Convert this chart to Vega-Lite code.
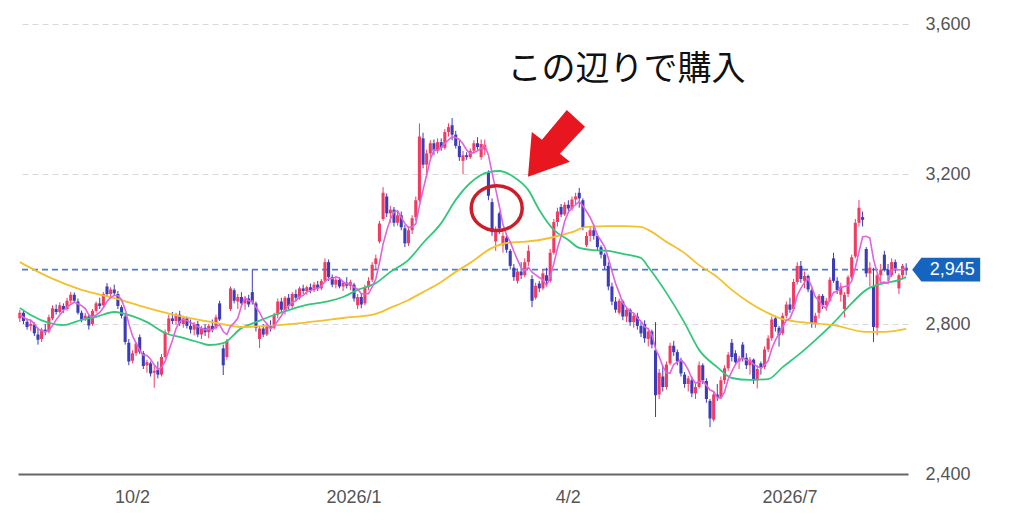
{
  "$schema": "https://vega.github.io/schema/vega-lite/v6.json",
  "width": 890,
  "height": 474,
  "autosize": {"type": "none"},
  "padding": {"left": 18, "top": 0, "right": 116, "bottom": 55},
  "background": "#ffffff",
  "config": {"view": {"stroke": null}, "font": "Liberation Sans"},
  "datasets": {
    "candles": [
      {"d":"2025-08-18","o":2815,"h":2838,"l":2805,"c":2830,"m5":2824},
      {"d":"2025-08-19","o":2830,"h":2836,"l":2800,"c":2808,"m5":2818},
      {"d":"2025-08-20","o":2806,"h":2815,"l":2785,"c":2792,"m5":2812},
      {"d":"2025-08-21","o":2795,"h":2812,"l":2782,"c":2800,"m5":2810},
      {"d":"2025-08-22","o":2798,"h":2804,"l":2768,"c":2775,"m5":2801},
      {"d":"2025-08-25","o":2772,"h":2790,"l":2745,"c":2758,"m5":2787},
      {"d":"2025-08-26","o":2760,"h":2790,"l":2752,"c":2785,"m5":2782},
      {"d":"2025-08-27","o":2785,"h":2800,"l":2770,"c":2778,"m5":2779},
      {"d":"2025-08-28","o":2780,"h":2825,"l":2775,"c":2818,"m5":2783},
      {"d":"2025-08-29","o":2815,"h":2850,"l":2810,"c":2842,"m5":2796},
      {"d":"2025-09-01","o":2840,"h":2852,"l":2825,"c":2832,"m5":2811},
      {"d":"2025-09-02","o":2832,"h":2858,"l":2828,"c":2850,"m5":2824},
      {"d":"2025-09-03","o":2848,"h":2855,"l":2830,"c":2838,"m5":2836},
      {"d":"2025-09-04","o":2840,"h":2870,"l":2835,"c":2862,"m5":2845},
      {"d":"2025-09-05","o":2862,"h":2885,"l":2855,"c":2878,"m5":2852},
      {"d":"2025-09-08","o":2878,"h":2884,"l":2858,"c":2862,"m5":2858},
      {"d":"2025-09-09","o":2860,"h":2868,"l":2825,"c":2830,"m5":2854},
      {"d":"2025-09-10","o":2830,"h":2836,"l":2805,"c":2812,"m5":2849},
      {"d":"2025-09-11","o":2815,"h":2830,"l":2808,"c":2822,"m5":2841},
      {"d":"2025-09-12","o":2820,"h":2825,"l":2785,"c":2796,"m5":2824},
      {"d":"2025-09-16","o":2800,"h":2840,"l":2795,"c":2835,"m5":2819},
      {"d":"2025-09-17","o":2835,"h":2860,"l":2830,"c":2855,"m5":2824},
      {"d":"2025-09-18","o":2855,"h":2870,"l":2840,"c":2848,"m5":2831},
      {"d":"2025-09-19","o":2850,"h":2885,"l":2845,"c":2880,"m5":2843},
      {"d":"2025-09-22","o":2900,"h":2909,"l":2872,"c":2880,"m5":2860},
      {"d":"2025-09-24","o":2880,"h":2898,"l":2868,"c":2892,"m5":2871},
      {"d":"2025-09-25","o":2892,"h":2905,"l":2875,"c":2882,"m5":2876},
      {"d":"2025-09-26","o":2880,"h":2888,"l":2840,"c":2848,"m5":2876},
      {"d":"2025-09-29","o":2845,"h":2850,"l":2815,"c":2822,"m5":2865},
      {"d":"2025-09-30","o":2820,"h":2825,"l":2745,"c":2752,"m5":2839},
      {"d":"2025-10-01","o":2750,"h":2760,"l":2690,"c":2700,"m5":2801},
      {"d":"2025-10-02","o":2702,"h":2730,"l":2695,"c":2722,"m5":2769},
      {"d":"2025-10-03","o":2722,"h":2752,"l":2715,"c":2748,"m5":2749},
      {"d":"2025-10-06","o":2765,"h":2772,"l":2720,"c":2726,"m5":2730},
      {"d":"2025-10-07","o":2722,"h":2728,"l":2680,"c":2688,"m5":2717},
      {"d":"2025-10-08","o":2690,"h":2705,"l":2670,"c":2698,"m5":2716},
      {"d":"2025-10-09","o":2695,"h":2700,"l":2660,"c":2668,"m5":2706},
      {"d":"2025-10-10","o":2670,"h":2690,"l":2630,"c":2675,"m5":2691},
      {"d":"2025-10-14","o":2678,"h":2700,"l":2655,"c":2665,"m5":2679},
      {"d":"2025-10-15","o":2665,"h":2720,"l":2660,"c":2712,"m5":2684},
      {"d":"2025-10-16","o":2712,"h":2785,"l":2708,"c":2778,"m5":2700},
      {"d":"2025-10-17","o":2780,"h":2825,"l":2772,"c":2815,"m5":2729},
      {"d":"2025-10-20","o":2815,"h":2832,"l":2800,"c":2808,"m5":2756},
      {"d":"2025-10-21","o":2808,"h":2830,"l":2798,"c":2825,"m5":2788},
      {"d":"2025-10-22","o":2825,"h":2835,"l":2795,"c":2802,"m5":2806},
      {"d":"2025-10-23","o":2800,"h":2822,"l":2790,"c":2815,"m5":2813},
      {"d":"2025-10-24","o":2815,"h":2820,"l":2788,"c":2795,"m5":2809},
      {"d":"2025-10-27","o":2795,"h":2812,"l":2775,"c":2785,"m5":2804},
      {"d":"2025-10-28","o":2785,"h":2805,"l":2770,"c":2800,"m5":2799},
      {"d":"2025-10-29","o":2800,"h":2808,"l":2765,"c":2772,"m5":2793},
      {"d":"2025-10-30","o":2772,"h":2795,"l":2760,"c":2790,"m5":2788},
      {"d":"2025-10-31","o":2790,"h":2800,"l":2768,"c":2778,"m5":2785},
      {"d":"2025-11-04","o":2778,"h":2800,"l":2762,"c":2795,"m5":2787},
      {"d":"2025-11-05","o":2795,"h":2812,"l":2778,"c":2785,"m5":2784},
      {"d":"2025-11-06","o":2790,"h":2825,"l":2785,"c":2818,"m5":2793},
      {"d":"2025-11-07","o":2855,"h":2862,"l":2808,"c":2812,"m5":2798},
      {"d":"2025-11-10","o":2735,"h":2745,"l":2664,"c":2690,"m5":2780},
      {"d":"2025-11-11","o":2712,"h":2760,"l":2705,"c":2755,"m5":2772},
      {"d":"2025-11-12","o":2840,"h":2900,"l":2835,"c":2895,"m5":2794},
      {"d":"2025-11-13","o":2890,"h":2895,"l":2855,"c":2862,"m5":2803},
      {"d":"2025-11-14","o":2860,"h":2880,"l":2840,"c":2872,"m5":2815},
      {"d":"2025-11-17","o":2872,"h":2885,"l":2848,"c":2855,"m5":2848},
      {"d":"2025-11-18","o":2855,"h":2875,"l":2838,"c":2868,"m5":2870},
      {"d":"2025-11-19","o":2868,"h":2878,"l":2845,"c":2852,"m5":2862},
      {"d":"2025-11-20","o":2885,"h":2944,"l":2852,"c":2858,"m5":2861},
      {"d":"2025-11-21","o":2855,"h":2860,"l":2780,"c":2790,"m5":2845},
      {"d":"2025-11-25","o":2760,"h":2795,"l":2736,"c":2788,"m5":2831},
      {"d":"2025-11-26","o":2788,"h":2800,"l":2765,"c":2772,"m5":2812},
      {"d":"2025-11-27","o":2772,"h":2800,"l":2768,"c":2795,"m5":2801},
      {"d":"2025-11-28","o":2795,"h":2810,"l":2780,"c":2790,"m5":2787},
      {"d":"2025-12-01","o":2790,"h":2830,"l":2785,"c":2825,"m5":2794},
      {"d":"2025-12-02","o":2825,"h":2868,"l":2815,"c":2860,"m5":2808},
      {"d":"2025-12-03","o":2860,"h":2870,"l":2830,"c":2838,"m5":2822},
      {"d":"2025-12-04","o":2835,"h":2875,"l":2825,"c":2870,"m5":2837},
      {"d":"2025-12-05","o":2870,"h":2880,"l":2840,"c":2848,"m5":2848},
      {"d":"2025-12-08","o":2848,"h":2885,"l":2842,"c":2880,"m5":2859},
      {"d":"2025-12-09","o":2880,"h":2892,"l":2862,"c":2870,"m5":2861},
      {"d":"2025-12-10","o":2870,"h":2900,"l":2865,"c":2895,"m5":2873},
      {"d":"2025-12-11","o":2895,"h":2905,"l":2880,"c":2888,"m5":2876},
      {"d":"2025-12-12","o":2888,"h":2902,"l":2878,"c":2898,"m5":2886},
      {"d":"2025-12-15","o":2898,"h":2908,"l":2882,"c":2890,"m5":2888},
      {"d":"2025-12-16","o":2890,"h":2912,"l":2885,"c":2905,"m5":2895},
      {"d":"2025-12-17","o":2905,"h":2915,"l":2888,"c":2895,"m5":2895},
      {"d":"2025-12-18","o":2895,"h":2920,"l":2890,"c":2915,"m5":2901},
      {"d":"2025-12-19","o":2915,"h":2975,"l":2910,"c":2965,"m5":2914},
      {"d":"2025-12-22","o":2965,"h":2972,"l":2915,"c":2925,"m5":2921},
      {"d":"2025-12-23","o":2925,"h":2932,"l":2898,"c":2905,"m5":2921},
      {"d":"2025-12-24","o":2905,"h":2925,"l":2895,"c":2918,"m5":2926},
      {"d":"2025-12-25","o":2918,"h":2925,"l":2895,"c":2900,"m5":2923},
      {"d":"2025-12-26","o":2900,"h":2915,"l":2888,"c":2910,"m5":2912},
      {"d":"2025-12-29","o":2910,"h":2925,"l":2895,"c":2902,"m5":2907},
      {"d":"2025-12-30","o":2902,"h":2918,"l":2890,"c":2912,"m5":2908},
      {"d":"2026-01-05","o":2905,"h":2910,"l":2860,"c":2868,"m5":2898},
      {"d":"2026-01-06","o":2850,"h":2880,"l":2840,"c":2872,"m5":2893},
      {"d":"2026-01-07","o":2872,"h":2882,"l":2842,"c":2852,"m5":2881},
      {"d":"2026-01-08","o":2855,"h":2905,"l":2850,"c":2898,"m5":2880},
      {"d":"2026-01-09","o":2898,"h":2925,"l":2890,"c":2915,"m5":2881},
      {"d":"2026-01-13","o":2918,"h":2965,"l":2912,"c":2958,"m5":2899},
      {"d":"2026-01-14","o":2960,"h":2985,"l":2945,"c":2975,"m5":2920},
      {"d":"2026-01-15","o":3020,"h":3075,"l":3015,"c":3068,"m5":2963},
      {"d":"2026-01-16","o":3080,"h":3165,"l":3075,"c":3150,"m5":3013},
      {"d":"2026-01-19","o":3140,"h":3148,"l":3085,"c":3095,"m5":3049},
      {"d":"2026-01-20","o":3095,"h":3115,"l":3070,"c":3105,"m5":3079},
      {"d":"2026-01-21","o":3105,"h":3112,"l":3060,"c":3070,"m5":3098},
      {"d":"2026-01-22","o":3070,"h":3100,"l":3062,"c":3090,"m5":3102},
      {"d":"2026-01-23","o":3090,"h":3100,"l":3050,"c":3058,"m5":3084},
      {"d":"2026-01-26","o":3055,"h":3065,"l":3005,"c":3015,"m5":3068},
      {"d":"2026-01-27","o":3015,"h":3060,"l":3008,"c":3050,"m5":3057},
      {"d":"2026-01-28","o":3050,"h":3090,"l":3040,"c":3082,"m5":3059},
      {"d":"2026-01-29","o":3085,"h":3140,"l":3075,"c":3130,"m5":3067},
      {"d":"2026-01-30","o":3130,"h":3335,"l":3125,"c":3300,"m5":3115},
      {"d":"2026-02-02","o":3295,"h":3310,"l":3215,"c":3225,"m5":3157},
      {"d":"2026-02-03","o":3225,"h":3265,"l":3190,"c":3255,"m5":3198},
      {"d":"2026-02-04","o":3255,"h":3290,"l":3245,"c":3282,"m5":3238},
      {"d":"2026-02-05","o":3282,"h":3292,"l":3250,"c":3262,"m5":3265},
      {"d":"2026-02-06","o":3262,"h":3295,"l":3255,"c":3285,"m5":3262},
      {"d":"2026-02-09","o":3285,"h":3295,"l":3262,"c":3270,"m5":3271},
      {"d":"2026-02-10","o":3270,"h":3320,"l":3265,"c":3312,"m5":3282},
      {"d":"2026-02-12","o":3312,"h":3335,"l":3300,"c":3325,"m5":3291},
      {"d":"2026-02-13","o":3330,"h":3349,"l":3290,"c":3305,"m5":3299},
      {"d":"2026-02-16","o":3305,"h":3315,"l":3268,"c":3275,"m5":3297},
      {"d":"2026-02-17","o":3275,"h":3290,"l":3235,"c":3245,"m5":3292},
      {"d":"2026-02-18","o":3235,"h":3262,"l":3200,"c":3250,"m5":3280},
      {"d":"2026-02-19","o":3250,"h":3258,"l":3238,"c":3245,"m5":3264},
      {"d":"2026-02-20","o":3245,"h":3268,"l":3240,"c":3262,"m5":3255},
      {"d":"2026-02-24","o":3262,"h":3290,"l":3255,"c":3282,"m5":3257},
      {"d":"2026-02-25","o":3282,"h":3298,"l":3265,"c":3272,"m5":3262},
      {"d":"2026-02-26","o":3245,"h":3292,"l":3238,"c":3280,"m5":3268},
      {"d":"2026-02-27","o":3265,"h":3292,"l":3250,"c":3278,"m5":3275},
      {"d":"2026-03-02","o":3205,"h":3210,"l":3130,"c":3142,"m5":3251},
      {"d":"2026-03-03","o":3125,"h":3135,"l":3035,"c":3045,"m5":3203},
      {"d":"2026-03-04","o":3020,"h":3060,"l":2995,"c":3050,"m5":3159},
      {"d":"2026-03-05","o":3095,"h":3100,"l":3040,"c":3055,"m5":3114},
      {"d":"2026-03-06","o":3010,"h":3045,"l":2990,"c":3035,"m5":3065},
      {"d":"2026-03-09","o":3030,"h":3040,"l":2990,"c":2998,"m5":3037},
      {"d":"2026-03-10","o":2995,"h":3000,"l":2945,"c":2955,"m5":3019},
      {"d":"2026-03-11","o":2950,"h":2960,"l":2915,"c":2925,"m5":2994},
      {"d":"2026-03-12","o":2915,"h":2948,"l":2908,"c":2940,"m5":2971},
      {"d":"2026-03-13","o":2940,"h":2965,"l":2920,"c":2930,"m5":2950},
      {"d":"2026-03-16","o":2930,"h":2975,"l":2925,"c":2965,"m5":2943},
      {"d":"2026-03-17","o":2965,"h":3010,"l":2955,"c":2995,"m5":2951},
      {"d":"2026-03-18","o":2920,"h":2930,"l":2845,"c":2862,"m5":2938},
      {"d":"2026-03-19","o":2870,"h":2910,"l":2865,"c":2902,"m5":2931},
      {"d":"2026-03-23","o":2908,"h":2915,"l":2885,"c":2895,"m5":2924},
      {"d":"2026-03-24","o":2895,"h":2945,"l":2890,"c":2935,"m5":2918},
      {"d":"2026-03-25","o":2930,"h":2950,"l":2905,"c":2915,"m5":2902},
      {"d":"2026-03-26","o":2915,"h":3000,"l":2910,"c":2990,"m5":2927},
      {"d":"2026-03-27","o":2990,"h":3080,"l":2985,"c":3072,"m5":2961},
      {"d":"2026-03-30","o":3072,"h":3110,"l":3060,"c":3100,"m5":3002},
      {"d":"2026-03-31","o":3112,"h":3120,"l":3085,"c":3092,"m5":3034},
      {"d":"2026-04-01","o":3092,"h":3125,"l":3088,"c":3118,"m5":3074},
      {"d":"2026-04-02","o":3118,"h":3130,"l":3100,"c":3108,"m5":3098},
      {"d":"2026-04-03","o":3108,"h":3140,"l":3102,"c":3132,"m5":3110},
      {"d":"2026-04-06","o":3132,"h":3150,"l":3118,"c":3140,"m5":3118},
      {"d":"2026-04-07","o":3150,"h":3163,"l":3110,"c":3135,"m5":3127},
      {"d":"2026-04-08","o":3130,"h":3135,"l":3050,"c":3058,"m5":3115},
      {"d":"2026-04-09","o":3010,"h":3045,"l":3005,"c":3035,"m5":3100},
      {"d":"2026-04-10","o":3035,"h":3060,"l":3020,"c":3050,"m5":3084},
      {"d":"2026-04-13","o":3050,"h":3065,"l":3025,"c":3035,"m5":3063},
      {"d":"2026-04-14","o":3035,"h":3040,"l":2995,"c":3005,"m5":3037},
      {"d":"2026-04-15","o":3005,"h":3010,"l":2975,"c":2985,"m5":3022},
      {"d":"2026-04-16","o":2985,"h":2990,"l":2945,"c":2955,"m5":3006},
      {"d":"2026-04-17","o":2955,"h":2965,"l":2890,"c":2900,"m5":2976},
      {"d":"2026-04-20","o":2900,"h":2910,"l":2850,"c":2860,"m5":2941},
      {"d":"2026-04-21","o":2860,"h":2872,"l":2830,"c":2838,"m5":2908},
      {"d":"2026-04-22","o":2830,"h":2868,"l":2825,"c":2862,"m5":2883},
      {"d":"2026-04-23","o":2860,"h":2865,"l":2810,"c":2820,"m5":2856},
      {"d":"2026-04-24","o":2820,"h":2845,"l":2805,"c":2838,"m5":2844},
      {"d":"2026-04-27","o":2838,"h":2842,"l":2795,"c":2805,"m5":2833},
      {"d":"2026-04-28","o":2805,"h":2830,"l":2790,"c":2822,"m5":2829},
      {"d":"2026-04-29","o":2820,"h":2830,"l":2785,"c":2795,"m5":2816},
      {"d":"2026-04-30","o":2795,"h":2805,"l":2765,"c":2775,"m5":2807},
      {"d":"2026-05-01","o":2800,"h":2810,"l":2750,"c":2762,"m5":2792},
      {"d":"2026-05-07","o":2760,"h":2790,"l":2740,"c":2780,"m5":2787},
      {"d":"2026-05-08","o":2780,"h":2785,"l":2735,"c":2745,"m5":2771},
      {"d":"2026-05-11","o":2730,"h":2805,"l":2552,"c":2610,"m5":2734},
      {"d":"2026-05-12","o":2612,"h":2680,"l":2600,"c":2670,"m5":2713},
      {"d":"2026-05-13","o":2660,"h":2690,"l":2620,"c":2632,"m5":2687},
      {"d":"2026-05-14","o":2632,"h":2700,"l":2625,"c":2692,"m5":2670},
      {"d":"2026-05-15","o":2695,"h":2750,"l":2690,"c":2742,"m5":2669},
      {"d":"2026-05-18","o":2742,"h":2755,"l":2715,"c":2725,"m5":2692},
      {"d":"2026-05-19","o":2725,"h":2732,"l":2690,"c":2700,"m5":2698},
      {"d":"2026-05-20","o":2700,"h":2710,"l":2660,"c":2668,"m5":2705},
      {"d":"2026-05-21","o":2665,"h":2672,"l":2630,"c":2640,"m5":2695},
      {"d":"2026-05-22","o":2640,"h":2662,"l":2620,"c":2655,"m5":2678},
      {"d":"2026-05-25","o":2650,"h":2660,"l":2605,"c":2615,"m5":2656},
      {"d":"2026-05-26","o":2615,"h":2640,"l":2600,"c":2632,"m5":2642},
      {"d":"2026-05-27","o":2632,"h":2700,"l":2628,"c":2690,"m5":2646},
      {"d":"2026-05-28","o":2690,"h":2695,"l":2640,"c":2650,"m5":2648},
      {"d":"2026-05-29","o":2648,"h":2655,"l":2590,"c":2600,"m5":2637},
      {"d":"2026-06-01","o":2595,"h":2600,"l":2525,"c":2548,"m5":2624},
      {"d":"2026-06-02","o":2545,"h":2620,"l":2540,"c":2612,"m5":2620},
      {"d":"2026-06-03","o":2612,"h":2640,"l":2595,"c":2605,"m5":2603},
      {"d":"2026-06-04","o":2605,"h":2660,"l":2600,"c":2650,"m5":2603},
      {"d":"2026-06-05","o":2650,"h":2690,"l":2640,"c":2682,"m5":2619},
      {"d":"2026-06-08","o":2682,"h":2725,"l":2675,"c":2718,"m5":2653},
      {"d":"2026-06-09","o":2750,"h":2760,"l":2700,"c":2712,"m5":2673},
      {"d":"2026-06-10","o":2722,"h":2730,"l":2690,"c":2698,"m5":2692},
      {"d":"2026-06-11","o":2700,"h":2715,"l":2680,"c":2708,"m5":2704},
      {"d":"2026-06-12","o":2745,"h":2752,"l":2700,"c":2710,"m5":2709},
      {"d":"2026-06-15","o":2710,"h":2722,"l":2680,"c":2690,"m5":2704},
      {"d":"2026-06-16","o":2690,"h":2712,"l":2665,"c":2705,"m5":2702},
      {"d":"2026-06-17","o":2705,"h":2708,"l":2640,"c":2650,"m5":2693},
      {"d":"2026-06-18","o":2650,"h":2690,"l":2628,"c":2680,"m5":2687},
      {"d":"2026-06-19","o":2695,"h":2700,"l":2665,"c":2685,"m5":2682},
      {"d":"2026-06-22","o":2685,"h":2740,"l":2680,"c":2732,"m5":2690},
      {"d":"2026-06-23","o":2732,"h":2770,"l":2725,"c":2762,"m5":2702},
      {"d":"2026-06-24","o":2762,"h":2820,"l":2755,"c":2812,"m5":2734},
      {"d":"2026-06-25","o":2815,"h":2822,"l":2780,"c":2792,"m5":2757},
      {"d":"2026-06-26","o":2790,"h":2795,"l":2740,"c":2770,"m5":2774},
      {"d":"2026-06-29","o":2775,"h":2830,"l":2770,"c":2822,"m5":2792},
      {"d":"2026-06-30","o":2822,"h":2860,"l":2815,"c":2852,"m5":2810},
      {"d":"2026-07-01","o":2852,"h":2870,"l":2830,"c":2838,"m5":2815},
      {"d":"2026-07-02","o":2840,"h":2920,"l":2835,"c":2912,"m5":2839},
      {"d":"2026-07-03","o":2912,"h":2965,"l":2905,"c":2955,"m5":2876},
      {"d":"2026-07-06","o":2955,"h":2968,"l":2910,"c":2920,"m5":2895},
      {"d":"2026-07-07","o":2915,"h":2940,"l":2895,"c":2928,"m5":2911},
      {"d":"2026-07-08","o":2928,"h":2932,"l":2885,"c":2892,"m5":2921},
      {"d":"2026-07-09","o":2890,"h":2895,"l":2790,"c":2800,"m5":2899},
      {"d":"2026-07-10","o":2800,"h":2830,"l":2790,"c":2822,"m5":2872},
      {"d":"2026-07-13","o":2830,"h":2880,"l":2815,"c":2875,"m5":2863},
      {"d":"2026-07-14","o":2875,"h":2880,"l":2840,"c":2850,"m5":2848},
      {"d":"2026-07-15","o":2850,"h":2870,"l":2835,"c":2862,"m5":2842},
      {"d":"2026-07-16","o":2862,"h":2925,"l":2858,"c":2918,"m5":2865},
      {"d":"2026-07-17","o":2975,"h":2990,"l":2910,"c":2915,"m5":2884},
      {"d":"2026-07-21","o":2915,"h":2925,"l":2880,"c":2890,"m5":2887},
      {"d":"2026-07-22","o":2878,"h":2910,"l":2860,"c":2900,"m5":2897},
      {"d":"2026-07-23","o":2840,"h":2885,"l":2818,"c":2878,"m5":2900},
      {"d":"2026-07-24","o":2880,"h":2930,"l":2872,"c":2925,"m5":2902},
      {"d":"2026-07-27","o":2925,"h":2985,"l":2920,"c":2978,"m5":2914},
      {"d":"2026-07-28","o":2980,"h":3080,"l":2975,"c":3070,"m5":2950},
      {"d":"2026-07-29","o":3070,"h":3131,"l":3060,"c":3110,"m5":2992},
      {"d":"2026-07-30","o":3085,"h":3100,"l":3060,"c":3078,"m5":3032},
      {"d":"2026-07-31","o":3000,"h":3005,"l":2925,"c":2935,"m5":3034},
      {"d":"2026-08-03","o":2935,"h":2965,"l":2900,"c":2950,"m5":3029},
      {"d":"2026-08-04","o":2900,"h":2950,"l":2752,"c":2792,"m5":2973},
      {"d":"2026-08-05","o":2790,"h":2935,"l":2770,"c":2930,"m5":2937},
      {"d":"2026-08-06","o":2930,"h":2960,"l":2910,"c":2945,"m5":2910},
      {"d":"2026-08-07","o":2985,"h":2995,"l":2940,"c":2945,"m5":2912},
      {"d":"2026-08-10","o":2945,"h":2960,"l":2915,"c":2930,"m5":2908},
      {"d":"2026-08-12","o":2930,"h":2975,"l":2925,"c":2965,"m5":2943},
      {"d":"2026-08-13","o":2965,"h":2972,"l":2935,"c":2948,"m5":2947},
      {"d":"2026-08-14","o":2895,"h":2935,"l":2880,"c":2930,"m5":2944},
      {"d":"2026-08-17","o":2930,"h":2960,"l":2920,"c":2955,"m5":2946},
      {"d":"2026-08-18","o":2950,"h":2962,"l":2930,"c":2945,"m5":2949}
    ],
    "ma": [
      {"d":"2025-08-18","ma":"25","v":2843},{"d":"2025-08-21","ma":"25","v":2824},{"d":"2025-08-28","ma":"25","v":2803},
      {"d":"2025-09-03","ma":"25","v":2797},{"d":"2025-09-10","ma":"25","v":2811},{"d":"2025-09-17","ma":"25","v":2819},
      {"d":"2025-09-25","ma":"25","v":2832},{"d":"2025-10-02","ma":"25","v":2821},{"d":"2025-10-08","ma":"25","v":2805},
      {"d":"2025-10-16","ma":"25","v":2776},{"d":"2025-10-23","ma":"25","v":2763},{"d":"2025-10-29","ma":"25","v":2752},
      {"d":"2025-11-04","ma":"25","v":2744},{"d":"2025-11-10","ma":"25","v":2749},{"d":"2025-11-17","ma":"25","v":2789},
      {"d":"2025-11-21","ma":"25","v":2805},{"d":"2025-12-01","ma":"25","v":2824},{"d":"2025-12-05","ma":"25","v":2837},
      {"d":"2025-12-12","ma":"25","v":2851},{"d":"2025-12-19","ma":"25","v":2859},{"d":"2025-12-26","ma":"25","v":2872},
      {"d":"2026-01-06","ma":"25","v":2891},{"d":"2026-01-14","ma":"25","v":2909},{"d":"2026-01-20","ma":"25","v":2939},
      {"d":"2026-01-27","ma":"25","v":2971},{"d":"2026-02-02","ma":"25","v":3016},{"d":"2026-02-09","ma":"25","v":3069},
      {"d":"2026-02-16","ma":"25","v":3131},{"d":"2026-02-20","ma":"25","v":3176},{"d":"2026-03-02","ma":"25","v":3205},
      {"d":"2026-03-05","ma":"25","v":3208},{"d":"2026-03-11","ma":"25","v":3192},{"d":"2026-03-17","ma":"25","v":3157},
      {"d":"2026-03-23","ma":"25","v":3104},{"d":"2026-03-27","ma":"25","v":3051},{"d":"2026-04-02","ma":"25","v":3024},
      {"d":"2026-04-07","ma":"25","v":3003},{"d":"2026-04-13","ma":"25","v":2997},{"d":"2026-04-17","ma":"25","v":2995},
      {"d":"2026-04-23","ma":"25","v":2987},{"d":"2026-04-30","ma":"25","v":2976},{"d":"2026-05-07","ma":"25","v":2952},
      {"d":"2026-05-14","ma":"25","v":2883},{"d":"2026-05-21","ma":"25","v":2803},{"d":"2026-05-27","ma":"25","v":2731},
      {"d":"2026-06-03","ma":"25","v":2685},{"d":"2026-06-09","ma":"25","v":2656},{"d":"2026-06-16","ma":"25","v":2651},
      {"d":"2026-06-23","ma":"25","v":2653},{"d":"2026-06-29","ma":"25","v":2685},{"d":"2026-07-06","ma":"25","v":2723},
      {"d":"2026-07-10","ma":"25","v":2757},{"d":"2026-07-17","ma":"25","v":2803},{"d":"2026-07-24","ma":"25","v":2845},
      {"d":"2026-07-31","ma":"25","v":2891},{"d":"2026-08-07","ma":"25","v":2909},{"d":"2026-08-14","ma":"25","v":2917},
      {"d":"2026-08-18","ma":"25","v":2925},
      {"d":"2025-08-18","ma":"75","v":2965},{"d":"2025-08-28","ma":"75","v":2925},{"d":"2025-09-10","ma":"75","v":2891},
      {"d":"2025-09-25","ma":"75","v":2869},{"d":"2025-10-08","ma":"75","v":2843},{"d":"2025-10-23","ma":"75","v":2819},
      {"d":"2025-11-06","ma":"75","v":2803},{"d":"2025-11-17","ma":"75","v":2792},{"d":"2025-11-27","ma":"75","v":2795},
      {"d":"2025-12-11","ma":"75","v":2803},{"d":"2025-12-26","ma":"75","v":2816},{"d":"2026-01-14","ma":"75","v":2827},
      {"d":"2026-01-20","ma":"75","v":2843},{"d":"2026-01-27","ma":"75","v":2864},{"d":"2026-02-02","ma":"75","v":2885},
      {"d":"2026-02-09","ma":"75","v":2912},{"d":"2026-02-16","ma":"75","v":2939},{"d":"2026-02-20","ma":"75","v":2963},
      {"d":"2026-03-03","ma":"75","v":3003},{"d":"2026-03-09","ma":"75","v":3016},{"d":"2026-03-13","ma":"75","v":3019},
      {"d":"2026-03-23","ma":"75","v":3024},{"d":"2026-03-27","ma":"75","v":3032},{"d":"2026-04-03","ma":"75","v":3045},
      {"d":"2026-04-09","ma":"75","v":3059},{"d":"2026-04-17","ma":"75","v":3061},{"d":"2026-04-23","ma":"75","v":3061},
      {"d":"2026-04-30","ma":"75","v":3059},{"d":"2026-05-07","ma":"75","v":3051},{"d":"2026-05-14","ma":"75","v":3019},
      {"d":"2026-05-21","ma":"75","v":2989},{"d":"2026-05-27","ma":"75","v":2957},{"d":"2026-06-03","ma":"75","v":2925},
      {"d":"2026-06-09","ma":"75","v":2891},{"d":"2026-06-16","ma":"75","v":2856},{"d":"2026-06-23","ma":"75","v":2829},
      {"d":"2026-06-29","ma":"75","v":2813},{"d":"2026-07-06","ma":"75","v":2805},{"d":"2026-07-17","ma":"75","v":2797},
      {"d":"2026-07-31","ma":"75","v":2779},{"d":"2026-08-07","ma":"75","v":2779},{"d":"2026-08-18","ma":"75","v":2787}
    ]
  },
  "layer": [
    {
      "data": {"values": [{"p": 2945}]},
      "mark": {"type": "rule", "color": "#4d7fc4", "strokeDash": [6, 4], "strokeWidth": 1.6},
      "encoding": {
        "y": {"field": "p", "type": "quantitative", "title": null, "scale": {"domain": [2400, 3664], "nice": false, "zero": false}}
      }
    },
    {
      "data": {"name": "candles"},
      "mark": {"type": "rule", "strokeWidth": 1},
      "encoding": {
        "x": {
          "field": "d", "type": "ordinal", "title": null,
          "scale": {"type": "band", "paddingInner": 0, "paddingOuter": 0},
          "axis": {
            "values": ["2025-10-02", "2026-01-05", "2026-04-02", "2026-07-01"],
            "labelExpr": "datum.value == '2025-10-02' ? '10/2' : datum.value == '2026-01-05' ? '2026/1' : datum.value == '2026-04-02' ? '4/2' : '2026/7'",
            "labelAngle": 0, "labelFontSize": 18, "labelColor": "#555555", "labelPadding": 14,
            "ticks": false, "grid": false, "domainColor": "#666666", "domainWidth": 2
          }
        },
        "y": {
          "field": "l", "type": "quantitative", "title": null,
          "scale": {"domain": [2400, 3664], "nice": false, "zero": false},
          "axis": {
            "orient": "right", "values": [2400, 2800, 3200, 3600], "format": ",.0f",
            "grid": true, "gridDash": [6, 4], "gridColor": "#d9d9d9",
            "domain": false, "ticks": false, "labelPadding": 17,
            "labelFontSize": 18, "labelColor": "#555555"
          }
        },
        "y2": {"field": "h"},
        "color": {"condition": {"test": "datum.c >= datum.o", "value": "#f03c64"}, "value": "#3c3cb8"}
      }
    },
    {
      "data": {"name": "candles"},
      "mark": {"type": "bar", "width": {"band": 0.85}},
      "encoding": {
        "x": {"field": "d", "type": "ordinal", "title": null},
        "y": {"field": "o", "type": "quantitative", "title": null, "scale": {"domain": [2400, 3664], "nice": false, "zero": false}},
        "y2": {"field": "c"},
        "color": {"condition": {"test": "datum.c >= datum.o", "value": "#f03c64"}, "value": "#3c3cb8"}
      }
    },
    {
      "data": {"name": "ma"},
      "mark": {"type": "line", "strokeWidth": 1.8, "interpolate": "monotone"},
      "encoding": {
        "x": {"field": "d", "type": "ordinal", "title": null},
        "y": {"field": "v", "type": "quantitative", "title": null, "scale": {"domain": [2400, 3664], "nice": false, "zero": false}},
        "color": {"field": "ma", "type": "nominal", "scale": {"domain": ["25", "75"], "range": ["#34c77b", "#f2c12e"]}, "legend": null}
      }
    },
    {
      "data": {"name": "candles"},
      "mark": {"type": "line", "strokeWidth": 1.6, "color": "#e064dc"},
      "encoding": {
        "x": {"field": "d", "type": "ordinal", "title": null},
        "y": {"field": "m5", "type": "quantitative", "title": null, "scale": {"domain": [2400, 3664], "nice": false, "zero": false}}
      }
    },
    {
      "data": {"values": [{"d": "2026-03-04", "p": 3109}]},
      "mark": {"type": "point", "shape": "M-1,0A1,0.88,0,1,0,1,0A1,0.88,0,1,0,-1,0Z", "size": 2601, "filled": false, "color": "#cc1e2a", "strokeWidth": 3.5, "opacity": 1, "xOffset": 1},
      "encoding": {
        "x": {"field": "d", "type": "ordinal", "title": null},
        "y": {"field": "p", "type": "quantitative", "title": null, "scale": {"domain": [2400, 3664], "nice": false, "zero": false}}
      }
    },
    {
      "data": {"values": [{"d": "2026-03-30", "p": 3283}]},
      "mark": {"type": "point", "shape": "M0.31,-0.94L0.83,-0.46L0.11,0.31L0.4,0.54L-0.8,0.97L-0.69,-0.31L-0.4,-0.09Z", "size": 4900, "filled": true, "color": "#e8161e", "opacity": 1, "xOffset": -1.5},
      "encoding": {
        "x": {"field": "d", "type": "ordinal", "title": null},
        "y": {"field": "p", "type": "quantitative", "title": null, "scale": {"domain": [2400, 3664], "nice": false, "zero": false}}
      }
    },
    {
      "data": {"values": [{"d": "2026-04-24", "p": 3477, "t": "この辺りで購入"}]},
      "mark": {"type": "text", "font": "Noto Sans CJK JP", "fontSize": 34, "color": "#111111", "align": "center", "baseline": "middle"},
      "encoding": {
        "x": {"field": "d", "type": "ordinal", "title": null},
        "y": {"field": "p", "type": "quantitative", "title": null, "scale": {"domain": [2400, 3664], "nice": false, "zero": false}},
        "text": {"field": "t"}
      }
    },
    {
      "data": {"values": [{"d": "2026-08-18", "p": 2945, "t": "2,945"}]},
      "layer": [
        {
          "mark": {"type": "point", "shape": "M-1,0L-0.73,-0.35L1,-0.35L1,0.35L-0.73,0.35Z", "size": 4624, "filled": true, "color": "#1565c0", "opacity": 1, "xOffset": 40}
        },
        {
          "mark": {"type": "text", "fontSize": 18, "color": "#ffffff", "align": "center", "baseline": "middle", "dx": 46}
        }
      ],
      "encoding": {
        "x": {"field": "d", "type": "ordinal", "title": null},
        "y": {"field": "p", "type": "quantitative", "title": null, "scale": {"domain": [2400, 3664], "nice": false, "zero": false}},
        "text": {"field": "t"}
      }
    }
  ]
}
